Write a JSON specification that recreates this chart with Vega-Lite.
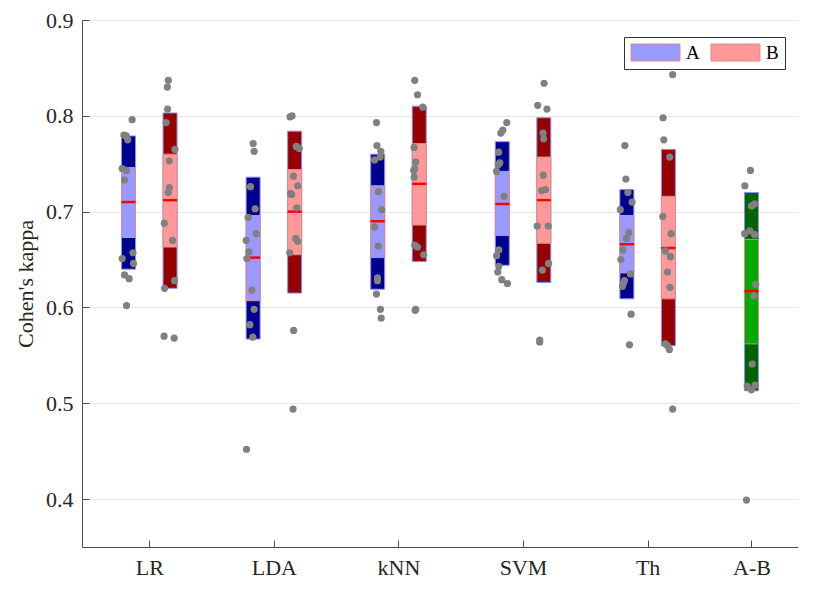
{
  "$schema": "https://vega.github.io/schema/vega-lite/v6.json",
  "width": 716,
  "height": 527,
  "autosize": {"type": "none"},
  "padding": {"left": 82, "top": 20, "right": 32, "bottom": 54},
  "config": {
    "font": "Liberation Serif",
    "view": {"stroke": null},
    "axis": {
      "labelFont": "Liberation Serif",
      "titleFont": "Liberation Serif",
      "labelFontSize": 22,
      "titleFontSize": 22,
      "titleFontWeight": "normal",
      "labelColor": "#262626",
      "titleColor": "#262626",
      "domainColor": "#4d4d4d",
      "tickColor": "#4d4d4d",
      "tickSize": -7,
      "gridColor": "#e6e6e6"
    },
    "legend": {"labelFont": "Liberation Serif"}
  },
  "datasets": {
    "boxes": [
      {"classifier": "LR", "group": "A", "lo": 0.640, "q1": 0.673, "med": 0.710, "q3": 0.746, "hi": 0.779},
      {"classifier": "LR", "group": "B", "lo": 0.620, "q1": 0.663, "med": 0.712, "q3": 0.760, "hi": 0.803},
      {"classifier": "LDA", "group": "A", "lo": 0.567, "q1": 0.607, "med": 0.652, "q3": 0.696, "hi": 0.736},
      {"classifier": "LDA", "group": "B", "lo": 0.615, "q1": 0.655, "med": 0.700, "q3": 0.744, "hi": 0.784},
      {"classifier": "kNN", "group": "A", "lo": 0.619, "q1": 0.652, "med": 0.690, "q3": 0.727, "hi": 0.760},
      {"classifier": "kNN", "group": "B", "lo": 0.648, "q1": 0.686, "med": 0.729, "q3": 0.771, "hi": 0.810},
      {"classifier": "SVM", "group": "A", "lo": 0.644, "q1": 0.675, "med": 0.708, "q3": 0.742, "hi": 0.773},
      {"classifier": "SVM", "group": "B", "lo": 0.626, "q1": 0.667, "med": 0.712, "q3": 0.757, "hi": 0.798},
      {"classifier": "Th", "group": "A", "lo": 0.609, "q1": 0.636, "med": 0.666, "q3": 0.696, "hi": 0.723},
      {"classifier": "Th", "group": "B", "lo": 0.560, "q1": 0.609, "med": 0.662, "q3": 0.716, "hi": 0.765},
      {"classifier": "A-B", "group": "A-B", "lo": 0.513, "q1": 0.562, "med": 0.617, "q3": 0.671, "hi": 0.720}
    ],
    "points": [
      {"classifier": "LR", "group": "A", "kappa": 0.796, "jitter": 0.029},
      {"classifier": "LR", "group": "A", "kappa": 0.780, "jitter": -0.037},
      {"classifier": "LR", "group": "A", "kappa": 0.779, "jitter": -0.019},
      {"classifier": "LR", "group": "A", "kappa": 0.775, "jitter": -0.006},
      {"classifier": "LR", "group": "A", "kappa": 0.745, "jitter": -0.051},
      {"classifier": "LR", "group": "A", "kappa": 0.743, "jitter": -0.016},
      {"classifier": "LR", "group": "A", "kappa": 0.733, "jitter": -0.032},
      {"classifier": "LR", "group": "A", "kappa": 0.651, "jitter": -0.051},
      {"classifier": "LR", "group": "A", "kappa": 0.657, "jitter": 0.036},
      {"classifier": "LR", "group": "A", "kappa": 0.646, "jitter": 0.040},
      {"classifier": "LR", "group": "A", "kappa": 0.634, "jitter": -0.032},
      {"classifier": "LR", "group": "A", "kappa": 0.630, "jitter": 0.005},
      {"classifier": "LR", "group": "A", "kappa": 0.602, "jitter": -0.016},
      {"classifier": "LR", "group": "B", "kappa": 0.837, "jitter": -0.014},
      {"classifier": "LR", "group": "B", "kappa": 0.830, "jitter": -0.022},
      {"classifier": "LR", "group": "B", "kappa": 0.807, "jitter": -0.020},
      {"classifier": "LR", "group": "B", "kappa": 0.793, "jitter": -0.032},
      {"classifier": "LR", "group": "B", "kappa": 0.765, "jitter": 0.039},
      {"classifier": "LR", "group": "B", "kappa": 0.753, "jitter": -0.006},
      {"classifier": "LR", "group": "B", "kappa": 0.725, "jitter": -0.006},
      {"classifier": "LR", "group": "B", "kappa": 0.720, "jitter": -0.014},
      {"classifier": "LR", "group": "B", "kappa": 0.688, "jitter": -0.046},
      {"classifier": "LR", "group": "B", "kappa": 0.670, "jitter": 0.020},
      {"classifier": "LR", "group": "B", "kappa": 0.628, "jitter": 0.036},
      {"classifier": "LR", "group": "B", "kappa": 0.620, "jitter": -0.044},
      {"classifier": "LR", "group": "B", "kappa": 0.570, "jitter": -0.048},
      {"classifier": "LR", "group": "B", "kappa": 0.568, "jitter": 0.033},
      {"classifier": "LDA", "group": "A", "kappa": 0.771, "jitter": 0.000},
      {"classifier": "LDA", "group": "A", "kappa": 0.763, "jitter": 0.008},
      {"classifier": "LDA", "group": "A", "kappa": 0.726, "jitter": -0.021},
      {"classifier": "LDA", "group": "A", "kappa": 0.703, "jitter": 0.016},
      {"classifier": "LDA", "group": "A", "kappa": 0.694, "jitter": -0.040},
      {"classifier": "LDA", "group": "A", "kappa": 0.677, "jitter": 0.026},
      {"classifier": "LDA", "group": "A", "kappa": 0.670, "jitter": -0.055},
      {"classifier": "LDA", "group": "A", "kappa": 0.658, "jitter": -0.034},
      {"classifier": "LDA", "group": "A", "kappa": 0.651, "jitter": -0.050},
      {"classifier": "LDA", "group": "A", "kappa": 0.618, "jitter": -0.010},
      {"classifier": "LDA", "group": "A", "kappa": 0.598, "jitter": 0.008},
      {"classifier": "LDA", "group": "A", "kappa": 0.582, "jitter": -0.026},
      {"classifier": "LDA", "group": "A", "kappa": 0.569, "jitter": -0.002},
      {"classifier": "LDA", "group": "A", "kappa": 0.452, "jitter": -0.053},
      {"classifier": "LDA", "group": "B", "kappa": 0.799, "jitter": -0.037},
      {"classifier": "LDA", "group": "B", "kappa": 0.800, "jitter": -0.021},
      {"classifier": "LDA", "group": "B", "kappa": 0.768, "jitter": 0.013},
      {"classifier": "LDA", "group": "B", "kappa": 0.766, "jitter": 0.037},
      {"classifier": "LDA", "group": "B", "kappa": 0.737, "jitter": -0.010},
      {"classifier": "LDA", "group": "B", "kappa": 0.727, "jitter": 0.024},
      {"classifier": "LDA", "group": "B", "kappa": 0.719, "jitter": -0.034},
      {"classifier": "LDA", "group": "B", "kappa": 0.718, "jitter": -0.024},
      {"classifier": "LDA", "group": "B", "kappa": 0.704, "jitter": 0.018},
      {"classifier": "LDA", "group": "B", "kappa": 0.672, "jitter": 0.008},
      {"classifier": "LDA", "group": "B", "kappa": 0.669, "jitter": 0.024},
      {"classifier": "LDA", "group": "B", "kappa": 0.657, "jitter": -0.040},
      {"classifier": "LDA", "group": "B", "kappa": 0.576, "jitter": -0.008},
      {"classifier": "LDA", "group": "B", "kappa": 0.494, "jitter": -0.013},
      {"classifier": "kNN", "group": "A", "kappa": 0.793, "jitter": -0.010},
      {"classifier": "kNN", "group": "A", "kappa": 0.769, "jitter": -0.006},
      {"classifier": "kNN", "group": "A", "kappa": 0.763, "jitter": 0.025},
      {"classifier": "kNN", "group": "A", "kappa": 0.757, "jitter": 0.020},
      {"classifier": "kNN", "group": "A", "kappa": 0.754, "jitter": -0.025},
      {"classifier": "kNN", "group": "A", "kappa": 0.721, "jitter": 0.006},
      {"classifier": "kNN", "group": "A", "kappa": 0.702, "jitter": 0.033},
      {"classifier": "kNN", "group": "A", "kappa": 0.684, "jitter": -0.025},
      {"classifier": "kNN", "group": "A", "kappa": 0.664, "jitter": 0.004},
      {"classifier": "kNN", "group": "A", "kappa": 0.631, "jitter": -0.002},
      {"classifier": "kNN", "group": "A", "kappa": 0.628, "jitter": -0.002},
      {"classifier": "kNN", "group": "A", "kappa": 0.614, "jitter": -0.010},
      {"classifier": "kNN", "group": "A", "kappa": 0.598, "jitter": 0.022},
      {"classifier": "kNN", "group": "A", "kappa": 0.589, "jitter": 0.028},
      {"classifier": "kNN", "group": "B", "kappa": 0.837, "jitter": -0.036},
      {"classifier": "kNN", "group": "B", "kappa": 0.822, "jitter": -0.014},
      {"classifier": "kNN", "group": "B", "kappa": 0.809, "jitter": 0.028},
      {"classifier": "kNN", "group": "B", "kappa": 0.767, "jitter": -0.041},
      {"classifier": "kNN", "group": "B", "kappa": 0.752, "jitter": -0.028},
      {"classifier": "kNN", "group": "B", "kappa": 0.745, "jitter": -0.036},
      {"classifier": "kNN", "group": "B", "kappa": 0.743, "jitter": -0.044},
      {"classifier": "kNN", "group": "B", "kappa": 0.736, "jitter": -0.041},
      {"classifier": "kNN", "group": "B", "kappa": 0.665, "jitter": -0.036},
      {"classifier": "kNN", "group": "B", "kappa": 0.663, "jitter": -0.014},
      {"classifier": "kNN", "group": "B", "kappa": 0.655, "jitter": 0.036},
      {"classifier": "kNN", "group": "B", "kappa": 0.598, "jitter": -0.028},
      {"classifier": "kNN", "group": "B", "kappa": 0.597, "jitter": -0.033},
      {"classifier": "SVM", "group": "A", "kappa": 0.793, "jitter": 0.036},
      {"classifier": "SVM", "group": "A", "kappa": 0.785, "jitter": 0.004},
      {"classifier": "SVM", "group": "A", "kappa": 0.782, "jitter": -0.012},
      {"classifier": "SVM", "group": "A", "kappa": 0.762, "jitter": -0.030},
      {"classifier": "SVM", "group": "A", "kappa": 0.751, "jitter": -0.020},
      {"classifier": "SVM", "group": "A", "kappa": 0.749, "jitter": -0.033},
      {"classifier": "SVM", "group": "A", "kappa": 0.742, "jitter": -0.046},
      {"classifier": "SVM", "group": "A", "kappa": 0.716, "jitter": 0.014},
      {"classifier": "SVM", "group": "A", "kappa": 0.660, "jitter": -0.028},
      {"classifier": "SVM", "group": "A", "kappa": 0.654, "jitter": -0.046},
      {"classifier": "SVM", "group": "A", "kappa": 0.643, "jitter": -0.028},
      {"classifier": "SVM", "group": "A", "kappa": 0.637, "jitter": -0.036},
      {"classifier": "SVM", "group": "A", "kappa": 0.629, "jitter": -0.004},
      {"classifier": "SVM", "group": "A", "kappa": 0.625, "jitter": 0.041},
      {"classifier": "SVM", "group": "B", "kappa": 0.834, "jitter": 0.002},
      {"classifier": "SVM", "group": "B", "kappa": 0.811, "jitter": -0.049},
      {"classifier": "SVM", "group": "B", "kappa": 0.807, "jitter": 0.025},
      {"classifier": "SVM", "group": "B", "kappa": 0.782, "jitter": -0.006},
      {"classifier": "SVM", "group": "B", "kappa": 0.776, "jitter": -0.002},
      {"classifier": "SVM", "group": "B", "kappa": 0.738, "jitter": -0.004},
      {"classifier": "SVM", "group": "B", "kappa": 0.722, "jitter": -0.017},
      {"classifier": "SVM", "group": "B", "kappa": 0.723, "jitter": 0.014},
      {"classifier": "SVM", "group": "B", "kappa": 0.685, "jitter": -0.054},
      {"classifier": "SVM", "group": "B", "kappa": 0.685, "jitter": 0.036},
      {"classifier": "SVM", "group": "B", "kappa": 0.646, "jitter": 0.038},
      {"classifier": "SVM", "group": "B", "kappa": 0.639, "jitter": -0.012},
      {"classifier": "SVM", "group": "B", "kappa": 0.566, "jitter": -0.033},
      {"classifier": "SVM", "group": "B", "kappa": 0.564, "jitter": -0.033},
      {"classifier": "Th", "group": "A", "kappa": 0.769, "jitter": -0.016},
      {"classifier": "Th", "group": "A", "kappa": 0.734, "jitter": -0.008},
      {"classifier": "Th", "group": "A", "kappa": 0.720, "jitter": 0.008},
      {"classifier": "Th", "group": "A", "kappa": 0.710, "jitter": 0.042},
      {"classifier": "Th", "group": "A", "kappa": 0.702, "jitter": -0.053},
      {"classifier": "Th", "group": "A", "kappa": 0.678, "jitter": 0.016},
      {"classifier": "Th", "group": "A", "kappa": 0.672, "jitter": -0.003},
      {"classifier": "Th", "group": "A", "kappa": 0.660, "jitter": -0.032},
      {"classifier": "Th", "group": "A", "kappa": 0.650, "jitter": -0.048},
      {"classifier": "Th", "group": "A", "kappa": 0.635, "jitter": 0.029},
      {"classifier": "Th", "group": "A", "kappa": 0.628, "jitter": -0.019},
      {"classifier": "Th", "group": "A", "kappa": 0.625, "jitter": -0.029},
      {"classifier": "Th", "group": "A", "kappa": 0.622, "jitter": -0.035},
      {"classifier": "Th", "group": "A", "kappa": 0.593, "jitter": 0.034},
      {"classifier": "Th", "group": "A", "kappa": 0.561, "jitter": 0.021},
      {"classifier": "Th", "group": "B", "kappa": 0.843, "jitter": 0.034},
      {"classifier": "Th", "group": "B", "kappa": 0.798, "jitter": -0.043},
      {"classifier": "Th", "group": "B", "kappa": 0.775, "jitter": -0.037},
      {"classifier": "Th", "group": "B", "kappa": 0.757, "jitter": 0.010},
      {"classifier": "Th", "group": "B", "kappa": 0.695, "jitter": -0.045},
      {"classifier": "Th", "group": "B", "kappa": 0.677, "jitter": 0.021},
      {"classifier": "Th", "group": "B", "kappa": 0.659, "jitter": -0.024},
      {"classifier": "Th", "group": "B", "kappa": 0.653, "jitter": 0.016},
      {"classifier": "Th", "group": "B", "kappa": 0.637, "jitter": -0.008},
      {"classifier": "Th", "group": "B", "kappa": 0.621, "jitter": 0.013},
      {"classifier": "Th", "group": "B", "kappa": 0.562, "jitter": -0.024},
      {"classifier": "Th", "group": "B", "kappa": 0.560, "jitter": -0.006},
      {"classifier": "Th", "group": "B", "kappa": 0.556, "jitter": 0.008},
      {"classifier": "Th", "group": "B", "kappa": 0.494, "jitter": 0.034},
      {"classifier": "A-B", "group": "A-B", "kappa": 0.743, "jitter": -0.008},
      {"classifier": "A-B", "group": "A-B", "kappa": 0.727, "jitter": -0.053},
      {"classifier": "A-B", "group": "A-B", "kappa": 0.706, "jitter": 0.000},
      {"classifier": "A-B", "group": "A-B", "kappa": 0.708, "jitter": 0.026},
      {"classifier": "A-B", "group": "A-B", "kappa": 0.677, "jitter": -0.055},
      {"classifier": "A-B", "group": "A-B", "kappa": 0.680, "jitter": -0.013},
      {"classifier": "A-B", "group": "A-B", "kappa": 0.676, "jitter": 0.026},
      {"classifier": "A-B", "group": "A-B", "kappa": 0.624, "jitter": 0.034},
      {"classifier": "A-B", "group": "A-B", "kappa": 0.612, "jitter": 0.018},
      {"classifier": "A-B", "group": "A-B", "kappa": 0.541, "jitter": 0.006},
      {"classifier": "A-B", "group": "A-B", "kappa": 0.518, "jitter": -0.034},
      {"classifier": "A-B", "group": "A-B", "kappa": 0.514, "jitter": 0.000},
      {"classifier": "A-B", "group": "A-B", "kappa": 0.519, "jitter": 0.029},
      {"classifier": "A-B", "group": "A-B", "kappa": 0.399, "jitter": -0.040}
    ]
  },
  "layer": [
    {
      "data": {"name": "boxes"},
      "transform": [
        {"calculate": "(datum.classifier == 'A-B' ? 5.8333 : indexof(['LR','LDA','kNN','SVM','Th'], datum.classifier) + 1) + (datum.group == 'A' ? -0.1667 : datum.group == 'B' ? 0.1667 : 0)", "as": "pos"}
      ],
      "mark": {"type": "bar", "width": 14, "stroke": "#8f8ff5", "strokeWidth": 1},
      "encoding": {
        "x": {
          "field": "pos", "type": "quantitative",
          "scale": {"domain": [0.5, 6.1667], "nice": false, "zero": false},
          "axis": {
            "title": null, "grid": false,
            "values": [1, 2, 3, 4, 5, 5.8333],
            "labelExpr": "datum.value > 5.5 ? 'A-B' : ['LR','LDA','kNN','SVM','Th'][round(datum.value) - 1]",
            "labelPadding": 17
          }
        },
        "y": {
          "field": "lo", "type": "quantitative",
          "scale": {"domain": [0.35, 0.9], "nice": false, "zero": false},
          "axis": {
            "title": "Cohen's kappa", "grid": true,
            "values": [0.4, 0.5, 0.6, 0.7, 0.8, 0.9],
            "format": ".1f", "labelPadding": 16, "titlePadding": 8
          }
        },
        "y2": {"field": "hi"},
        "fill": {
          "condition": [
            {"test": "datum.group == 'A'", "value": "#00008f"},
            {"test": "datum.group == 'B'", "value": "#960000"}
          ],
          "value": "#006400"
        }
      }
    },
    {
      "data": {"name": "boxes"},
      "transform": [
        {"calculate": "(datum.classifier == 'A-B' ? 5.8333 : indexof(['LR','LDA','kNN','SVM','Th'], datum.classifier) + 1) + (datum.group == 'A' ? -0.1667 : datum.group == 'B' ? 0.1667 : 0)", "as": "pos"}
      ],
      "mark": {"type": "bar", "width": 14, "stroke": "#d98c8c", "strokeWidth": 1, "opacity": 1},
      "encoding": {
        "x": {"field": "pos", "type": "quantitative"},
        "y": {"field": "q1", "type": "quantitative"},
        "y2": {"field": "q3"},
        "color": {
          "field": "group", "type": "nominal",
          "scale": {"domain": ["A", "B", "A-B"], "range": ["#9999ff", "#ff9999", "#00aa00"]},
          "legend": {
            "values": ["A", "B"],
            "title": null,
            "orient": "none",
            "legendX": 542,
            "legendY": 17,
            "direction": "horizontal",
            "strokeColor": "#333333",
            "fillColor": "#ffffff",
            "padding": 6,
            "symbolType": "M-2.88,-1H2.88V1H-2.88Z",
            "symbolSize": 289,
            "symbolOffset": 16,
            "symbolStrokeWidth": 1,
            "symbolOpacity": 1,
            "labelFont": "Liberation Serif",
            "labelFontSize": 19,
            "labelColor": "#000000",
            "labelOffset": 21,
            "columnPadding": 9
          }
        }
      }
    },
    {
      "data": {"name": "boxes"},
      "transform": [
        {"calculate": "(datum.classifier == 'A-B' ? 5.8333 : indexof(['LR','LDA','kNN','SVM','Th'], datum.classifier) + 1) + (datum.group == 'A' ? -0.1667 : datum.group == 'B' ? 0.1667 : 0)", "as": "pos"}
      ],
      "mark": {"type": "tick", "orient": "horizontal", "color": "#ff0000", "size": 14, "thickness": 2.5, "opacity": 1},
      "encoding": {
        "x": {"field": "pos", "type": "quantitative"},
        "y": {"field": "med", "type": "quantitative"}
      }
    },
    {
      "data": {"name": "points"},
      "transform": [
        {"calculate": "(datum.classifier == 'A-B' ? 5.8333 : indexof(['LR','LDA','kNN','SVM','Th'], datum.classifier) + 1) + (datum.group == 'A' ? -0.1667 : datum.group == 'B' ? 0.1667 : 0) + datum.jitter", "as": "pos"}
      ],
      "mark": {"type": "circle", "color": "#808080", "size": 52, "opacity": 1},
      "encoding": {
        "x": {"field": "pos", "type": "quantitative"},
        "y": {"field": "kappa", "type": "quantitative"}
      }
    }
  ]
}
